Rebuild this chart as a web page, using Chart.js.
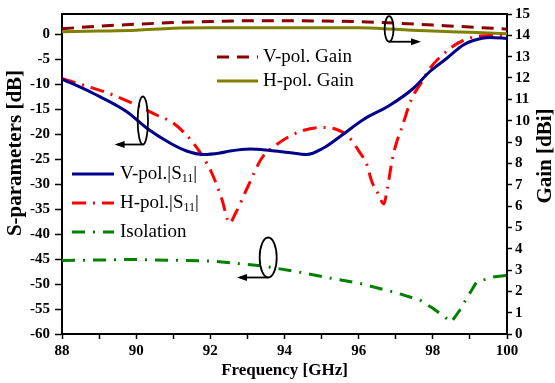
<!DOCTYPE html>
<html>
<head>
<meta charset="utf-8">
<script src="https://cdn.jsdelivr.net/npm/chart.js@4.4.0/dist/chart.umd.min.js"></script>
<style>
  html, body { margin: 0; padding: 0; background: #fff; }
</style>
</head>
<body>
<canvas id="grafico" width="555" height="383"></canvas>
<script>
// valores
var freqVS11 = [88, 88.85, 89.74, 90.28, 90.91, 91.36, 91.81, 92.26, 92.53, 93.07, 93.61, 94.1, 94.6, 95.05, 95.5, 96.13, 96.85, 97.47, 97.92, 98.37, 98.82, 99.09, 99.54, 100];
var vS11 = [-9.0, -11.9, -15.5, -18.8, -21.8, -23.4, -24.1, -23.8, -23.4, -23.0, -23.3, -23.7, -24.1, -22.8, -20.5, -17.1, -14.2, -10.9, -7.5, -4.9, -2.2, -1.3, -0.7, -0.9];

var freqHS11 = [88, 89.38, 90.0, 90.55, 91.0, 91.54, 91.9, 92.04, 92.31, 92.52, 92.67, 93.02, 93.39, 93.79, 94.42, 94.96, 95.41, 95.72, 96.04, 96.22, 96.35, 96.53, 96.68, 96.77, 96.92, 97.03, 97.16, 97.43, 97.65, 97.92, 98.46, 98.82, 99.27, 100];
var hS11 = [-8.9, -12.2, -14.2, -16.2, -17.8, -21.8, -25.8, -27.8, -33.0, -37.8, -36.0, -30.4, -24.8, -22.1, -19.5, -18.7, -19.1, -20.5, -23.8, -26.1, -29.4, -32.0, -34.0, -31.0, -24.6, -21.5, -18.8, -12.9, -10.2, -6.9, -2.9, -1.3, -0.4, -0.3];

var freqIso = [88, 89.9, 92.07, 93.4, 94.24, 95.14, 96.04, 96.94, 97.65, 98.01, 98.5, 98.73, 98.96, 99.18, 99.63, 100];
var isolacao = [-45.3, -45.1, -45.4, -46.4, -47.4, -48.7, -49.9, -51.6, -53.2, -54.9, -57.6, -55.2, -52.3, -49.6, -48.6, -48.3];

var freqGanho = [88, 89, 90, 91, 92, 93, 94, 95, 96, 97, 98, 99, 100];
var ganhoV = [14.31, 14.43, 14.52, 14.60, 14.65, 14.68, 14.68, 14.67, 14.64, 14.57, 14.48, 14.39, 14.29];
var ganhoH = [14.17, 14.20, 14.24, 14.33, 14.35, 14.35, 14.35, 14.35, 14.35, 14.28, 14.20, 14.14, 14.08];

var sTicks = [-60, -55, -50, -45, -40, -35, -30, -25, -20, -15, -10, -5, 0];

function pontos(xs, ys) {
    return xs.map(function (x, i) { return { x: x, y: ys[i] }; });
}

var fonte = 'Liberation Serif, Times New Roman, serif';

// titulos verticais, legenda em dois grupos, elipses com setas
var extras = {
    id: 'extras',
    afterDraw: function (chart) {
        var ctx = chart.ctx;
        var ca = chart.chartArea;
        var sx = chart.scales.x, sy = chart.scales.y, sy1 = chart.scales.y1;
        var ds = chart.data.datasets;

        ctx.save();
        // moldura de cima
        ctx.strokeStyle = '#000';
        ctx.lineWidth = 2;
        ctx.beginPath();
        ctx.moveTo(ca.left, ca.top);
        ctx.lineTo(ca.right, ca.top);
        ctx.stroke();

        // titulos dos eixos y (os dois lidos de baixo pra cima)
        ctx.fillStyle = '#000';
        ctx.textAlign = 'center';
        ctx.textBaseline = 'middle';
        ctx.font = 'bold 21px ' + fonte;
        ctx.save();
        ctx.translate(16, 153);
        ctx.rotate(-Math.PI / 2);
        ctx.fillText('S-parameters [dB]', 0, 0);
        ctx.restore();
        ctx.save();
        ctx.translate(546, 156);
        ctx.rotate(-Math.PI / 2);
        ctx.fillText('Gain [dBi]', 0, 0);
        ctx.restore();

        function amostra(d, x0, x1, y) {
            ctx.save();
            ctx.strokeStyle = d.borderColor;
            ctx.lineWidth = d.borderWidth;
            ctx.setLineDash(d.borderDash || []);
            ctx.beginPath();
            ctx.moveTo(x0, y);
            ctx.lineTo(x1, y);
            ctx.stroke();
            ctx.restore();
        }
        ctx.textAlign = 'left';

        // grupo do ganho
        amostra(ds[3], 217, 258, 57);
        amostra(ds[4], 217, 258, 81);
        ctx.font = '19px ' + fonte;
        ctx.fillText('V-pol. Gain', 263, 57);
        ctx.fillText('H-pol. Gain', 263, 81);

        // grupo dos S
        function textoS(pre, x, y) {
            ctx.font = '19px ' + fonte;
            ctx.fillText(pre, x, y);
            x += ctx.measureText(pre).width;
            ctx.font = '12px ' + fonte;
            ctx.fillText('11', x, y + 5);
            x += ctx.measureText('11').width;
            ctx.font = '19px ' + fonte;
            ctx.fillText('|', x, y);
        }
        amostra(ds[0], 72, 114, 174);
        amostra(ds[1], 72, 114, 203);
        amostra(ds[2], 72, 114, 232);
        textoS('V-pol.|S', 120, 174);
        textoS('H-pol.|S', 120, 203);
        ctx.font = '19px ' + fonte;
        ctx.fillText('Isolation', 120, 232);

        // elipses (coordenadas nos eixos)
        function elipse(escala, f, v, rf, rv, fSeta) {
            var cx = sx.getPixelForValue(f);
            var cy = escala.getPixelForValue(v);
            var rx = Math.abs(sx.getPixelForValue(f + rf) - cx);
            var ry = Math.abs(escala.getPixelForValue(v + rv) - cy);
            ctx.strokeStyle = '#000';
            ctx.lineWidth = 1.8;
            ctx.beginPath();
            ctx.ellipse(cx, cy, rx, ry, 0, 0, Math.PI * 2);
            ctx.stroke();
            var ax = sx.getPixelForValue(fSeta);
            var yb = cy + ry;
            ctx.beginPath();
            ctx.moveTo(cx, yb);
            ctx.lineTo(ax, yb);
            ctx.stroke();
            var dir = ax < cx ? -1 : 1;
            ctx.beginPath();
            ctx.moveTo(ax + dir * 3, yb);
            ctx.lineTo(ax - dir * 7, yb - 3.5);
            ctx.lineTo(ax - dir * 7, yb + 3.5);
            ctx.closePath();
            ctx.fill();
        }
        elipse(sy, 90.18, -17.3, 0.14, 4.8, 89.5);
        elipse(sy1, 96.82, 14.3, 0.12, 0.6, 97.6);
        elipse(sy, 93.56, -44.7, 0.23, 4.0, 92.8);
        ctx.restore();
    }
};

var ctx1 = document.getElementById('grafico').getContext('2d');
var meuGrafico = new Chart(ctx1, {
    type: 'line',
    data: {
        datasets: [{
            label: 'V-pol.|S11|',
            data: pontos(freqVS11, vS11),
            borderColor: '#00008B',
            borderWidth: 3,
            cubicInterpolationMode: 'monotone',
            yAxisID: 'y'
        },
        {
            label: 'H-pol.|S11|',
            data: pontos(freqHS11, hS11),
            borderColor: '#FF0000',
            borderWidth: 3,
            borderDash: [14, 7, 2, 7],
            cubicInterpolationMode: 'monotone',
            yAxisID: 'y'
        },
        {
            label: 'Isolation',
            data: pontos(freqIso, isolacao),
            borderColor: '#008000',
            borderWidth: 3,
            borderDash: [13, 8, 2, 8],
            tension: 0,
            yAxisID: 'y'
        },
        {
            label: 'V-pol. Gain',
            data: pontos(freqGanho, ganhoV),
            borderColor: '#8B0000',
            borderWidth: 3,
            borderDash: [12, 8],
            cubicInterpolationMode: 'monotone',
            yAxisID: 'y1'
        },
        {
            label: 'H-pol. Gain',
            data: pontos(freqGanho, ganhoH),
            borderColor: '#808000',
            borderWidth: 3,
            cubicInterpolationMode: 'monotone',
            yAxisID: 'y1'
        }]
    },
    options: {
        responsive: false,
        animation: false,
        elements: { point: { radius: 0 } },
        layout: { padding: { top: 11, left: 0, right: 0, bottom: 0 } },
        plugins: {
            legend: { display: false },
            tooltip: { enabled: false }
        },
        scales: {
            x: {
                type: 'linear',
                min: 88,
                max: 100,
                afterFit: function (s) { s.height = 49; },
                ticks: {
                    stepSize: 1,
                    autoSkip: false,
                    maxRotation: 0,
                    padding: 3,
                    color: '#000',
                    font: { family: fonte, size: 15, weight: 'bold' },
                    callback: function (v) { return v % 2 === 0 ? v : ''; }
                },
                grid: { drawOnChartArea: false, color: '#000', tickLength: 5, tickWidth: 1.5 },
                border: { color: '#000', width: 2 },
                title: {
                    display: true,
                    text: 'Frequency [GHz]',
                    color: '#000',
                    font: { family: fonte, size: 17, weight: 'bold' },
                    padding: { top: 0, bottom: 2 }
                }
            },
            y: {
                position: 'left',
                min: -60,
                max: 4,
                afterFit: function (s) { s.width = 62; },
                afterBuildTicks: function (s) {
                    s.ticks = sTicks.map(function (v) { return { value: v }; });
                },
                ticks: {
                    padding: 5,
                    color: '#000',
                    font: { family: fonte, size: 15, weight: 'bold' }
                },
                grid: { drawOnChartArea: false, color: '#000', tickLength: 7, tickWidth: 1.5 },
                border: { color: '#000', width: 2 }
            },
            y1: {
                position: 'right',
                min: 0,
                max: 15,
                afterFit: function (s) { s.width = 48; },
                ticks: {
                    stepSize: 1,
                    padding: 3,
                    color: '#000',
                    font: { family: fonte, size: 15, weight: 'bold' }
                },
                grid: { drawOnChartArea: false, color: '#000', tickLength: 5, tickWidth: 1.5 },
                border: { color: '#000', width: 2 }
            }
        }
    },
    plugins: [extras]
});
</script>
</body>
</html>
